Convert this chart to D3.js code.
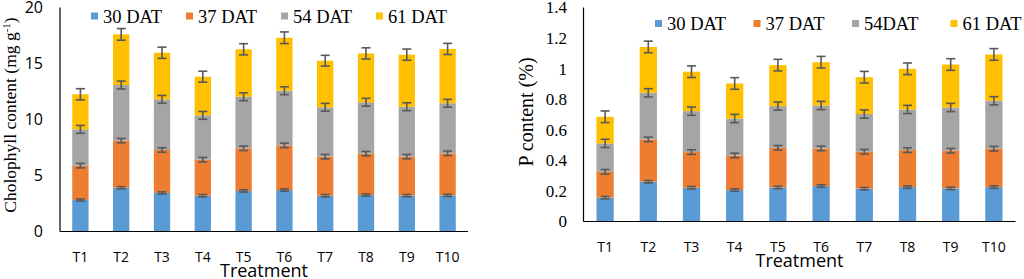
<!DOCTYPE html>
<html><head><meta charset="utf-8">
<script src="https://cdn.jsdelivr.net/npm/d3@7"></script>
<style>body{margin:0;background:#fff}svg{display:block}</style>
</head><body>
<svg id="c" width="1024" height="279"></svg>
<script>
// ---- data ----
const treatments = ["T1","T2","T3","T4","T5","T6","T7","T8","T9","T10"];
const seriesKeys = ["d30","d37","d54","d61"];
const leftLegend = ["30 DAT","37 DAT","54 DAT","61 DAT"];
const rightLegend = ["30 DAT","37 DAT","54DAT","61 DAT"];

// Chlorophyll (mg g-1), segment values
const chl30 = [2.81,3.91,3.44,3.20,3.62,3.70,3.20,3.26,3.20,3.23];
const chl37 = [3.07,4.20,3.84,3.21,3.81,3.99,3.48,3.69,3.48,3.75];
const chl54 = [3.24,4.97,4.52,3.96,4.60,4.88,4.41,4.59,4.46,4.47];
const chl61 = [3.13,4.52,4.16,3.45,4.24,4.73,4.16,4.36,4.65,4.85];
const chlErr30 = [0.10,0.10,0.10,0.10,0.10,0.10,0.10,0.10,0.10,0.10];
const chlErr37 = [0.20,0.20,0.20,0.20,0.20,0.20,0.20,0.20,0.20,0.20];
const chlErr54 = [0.35,0.35,0.35,0.35,0.35,0.35,0.35,0.35,0.35,0.35];
const chlErr61 = [0.50,0.52,0.50,0.49,0.50,0.52,0.48,0.50,0.50,0.50];
const chlTicks = [0,5,10,15,20];

// P content (%), segment values
const p30 = [0.156,0.260,0.221,0.206,0.223,0.232,0.215,0.225,0.217,0.225];
const p37 = [0.169,0.277,0.233,0.226,0.259,0.246,0.241,0.242,0.246,0.251];
const p54 = [0.186,0.305,0.268,0.242,0.273,0.281,0.247,0.266,0.283,0.314];
const p61 = [0.174,0.300,0.258,0.229,0.268,0.283,0.241,0.266,0.281,0.303];
const pErr30 = [0.008,0.008,0.008,0.008,0.008,0.008,0.008,0.008,0.008,0.008];
const pErr37 = [0.015,0.015,0.015,0.015,0.015,0.015,0.015,0.015,0.015,0.015];
const pErr54 = [0.027,0.027,0.027,0.027,0.027,0.027,0.027,0.027,0.027,0.027];
const pErr61 = [0.038,0.038,0.038,0.038,0.038,0.038,0.038,0.038,0.038,0.038];
const pTicks = [0,0.2,0.4,0.6,0.8,1,1.2,1.4];

const colors = ["#5B9BD5","#ED7D31","#A5A5A5","#FFC000"];
const serif = "'Liberation Serif', 'Times New Roman', serif";
const sans = "'Open Sans', 'Liberation Sans', sans-serif";

const svg = d3.select("#c");

function drawChart(cfg){
  const rows = treatments.map((t,i)=>({t, d30:cfg.s[0][i], d37:cfg.s[1][i], d54:cfg.s[2][i], d61:cfg.s[3][i]}));
  const stacked = d3.stack().keys(seriesKeys)(rows);
  const x = d3.scaleBand().domain(treatments).range([cfg.x0,cfg.x1]).paddingInner(0.6).paddingOuter(0.3);
  const y = d3.scaleLinear().domain([0,cfg.max]).range([cfg.yb,cfg.yt]);
  const g = svg.append("g");

  // bars
  stacked.forEach((layer,k)=>{
    g.append("g").attr("fill",colors[k]).selectAll("rect").data(layer).join("rect")
      .attr("x",d=>x(d.data.t)).attr("width",x.bandwidth())
      .attr("y",d=>y(d[1])).attr("height",d=>y(d[0])-y(d[1]));
  });
  // error bars
  const cap = 4.5;
  stacked.forEach((layer,k)=>{
    const eg = g.append("g").attr("stroke","#595959").attr("stroke-width",1.6).attr("fill","none");
    layer.forEach((d,i)=>{
      const cx = x(d.data.t)+x.bandwidth()/2;
      const e = cfg.e[k][i];
      const ya = y(d[1]+e), yb2 = y(d[1]-e);
      eg.append("line").attr("x1",cx).attr("x2",cx).attr("y1",ya).attr("y2",yb2);
      eg.append("line").attr("x1",cx-cap).attr("x2",cx+cap).attr("y1",ya).attr("y2",ya);
      eg.append("line").attr("x1",cx-cap).attr("x2",cx+cap).attr("y1",yb2).attr("y2",yb2);
    });
  });
  // axes lines
  g.append("line").attr("x1",cfg.x0).attr("x2",cfg.x0).attr("y1",y(cfg.max)).attr("y2",cfg.yb)
    .attr("stroke","#000").attr("stroke-width",1.2);
  g.append("line").attr("x1",cfg.x0).attr("x2",cfg.x1).attr("y1",cfg.yb).attr("y2",cfg.yb)
    .attr("stroke","#000").attr("stroke-width",1.2);

  // y tick labels
  g.append("g").selectAll("text").data(cfg.ticks).join("text")
    .attr("x",cfg.tickX).attr("y",d=>y(d)).attr("dy","0.35em").attr("text-anchor","end")
    .attr("font-family",cfg.tickFont).attr("font-size",cfg.tickSize).attr("fill","#000")
    .text(d=>d3.format("~g")(d));
  // x tick labels
  g.append("g").selectAll("text").data(treatments).join("text")
    .attr("x",d=>x(d)+x.bandwidth()/2).attr("y",cfg.yb+30).attr("text-anchor","middle")
    .attr("font-family",sans).attr("font-size",14).attr("fill","#000").text(d=>d);
  // x title
  g.append("text").attr("x",(cfg.x0+cfg.x1)/2).attr("y",cfg.yb+45).attr("text-anchor","middle")
    .attr("font-family",sans).attr("font-size",18).attr("fill","#000").text("Treatment");
  // y title
  const yt = g.append("text").attr("transform",`translate(${cfg.titleX},${cfg.titleY}) rotate(-90)`)
    .attr("text-anchor","middle").attr("font-family",serif).attr("font-size",cfg.titleSize).attr("fill","#000");
  cfg.title(yt);

  // legend
  const lg = g.append("g");
  cfg.legend.forEach((lab,k)=>{
    const lx = cfg.legX + k*cfg.legStep;
    lg.append("rect").attr("x",lx).attr("y",cfg.legY-10).attr("width",7).attr("height",7).attr("fill",colors[k]);
    lg.append("text").attr("x",lx+12).attr("y",cfg.legY).attr("font-family",serif).attr("font-size",18.5)
      .attr("fill","#000").text(lab);
  });
}

drawChart({
  s:[chl30,chl37,chl54,chl61], e:[chlErr30,chlErr37,chlErr54,chlErr61],
  x0:60, x1:468, yb:231.5, yt:7.5, max:20, ticks:chlTicks,
  tickX:43, tickFont:sans, tickSize:16,
  titleX:16, titleY:115, titleSize:17.5,
  title:t=>{ t.append("tspan").text("Cholophyll content (mg g");
             t.append("tspan").attr("font-size",11).attr("dy",-6).text("-1");
             t.append("tspan").attr("dy",6).text(")"); },
  legend:leftLegend, legX:91, legStep:95, legY:22.5
});
drawChart({
  s:[p30,p37,p54,p61], e:[pErr30,pErr37,pErr54,pErr61],
  x0:583.5, x1:1015.5, yb:221.5, yt:7.5, max:1.4, ticks:pTicks,
  tickX:567, tickFont:serif, tickSize:17,
  titleX:533, titleY:112, titleSize:20,
  title:t=>t.text("P content (%)"),
  legend:rightLegend, legX:655, legStep:98.5, legY:30
});
</script>
</body></html>
